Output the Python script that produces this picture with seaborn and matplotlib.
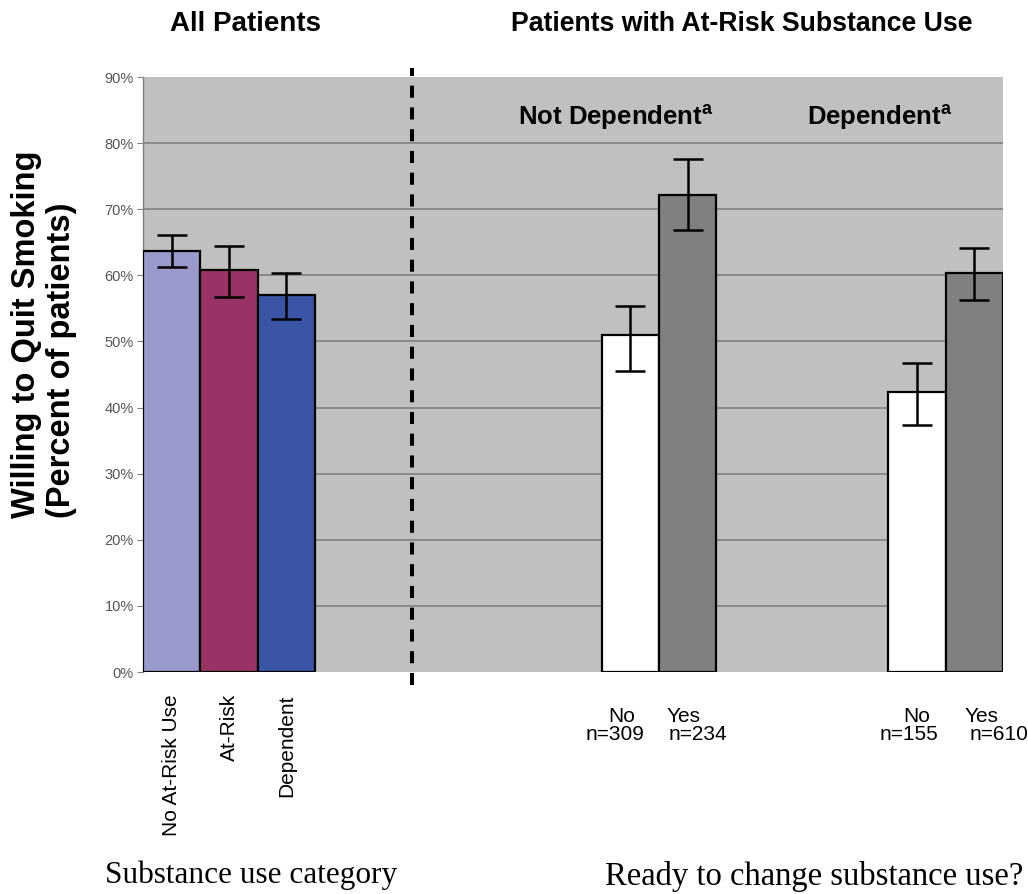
import numpy as np
import pandas as pd
import matplotlib
matplotlib.use("Agg")
import matplotlib.pyplot as plt
import seaborn as sns

# bar data (percent willing to quit smoking)
bar_keys = ["No At-Risk Use", "At-Risk", "Dependent", "ND-No", "ND-Yes", "D-No", "D-Yes"]
bar_pos = [0, 1, 2, 8, 9, 13, 14]
pct_willing = [63.7, 60.8, 57.1, 51.0, 72.2, 42.4, 60.4]
ci_low = [61.2, 56.7, 53.4, 45.5, 66.9, 37.4, 56.3]
ci_high = [66.1, 64.5, 60.4, 55.4, 77.6, 46.8, 64.1]
bar_colors = ["#9999CC", "#993366", "#3A55A5", "#FFFFFF", "#808080", "#FFFFFF", "#808080"]

# axis labels
category_labels = ["No At-Risk Use", "At-Risk", "Dependent"]
ready_labels = ["No", "Yes", "No", "Yes"]
ready_counts = ["n=309", "n=234", "n=155", "n=610"]
y_ticks = [0, 10, 20, 30, 40, 50, 60, 70, 80, 90]

df = pd.DataFrame({"pos": bar_pos, "pct": pct_willing, "key": bar_keys})

sns.set_style("white")
plt.rcParams["font.family"] = ["Liberation Sans", "DejaVu Sans"]
plt.rcParams["text.color"] = "black"
plt.rcParams["mathtext.fontset"] = "custom"
plt.rcParams["mathtext.bf"] = "Liberation Sans:bold"
plt.rcParams["mathtext.rm"] = "Liberation Sans"

W, H = 1028, 894
fig = plt.figure(figsize=(W / 100, H / 100), dpi=100)
ax = fig.add_axes([143 / W, 1 - 672 / H, 860 / W, 595 / H])
ax.set_facecolor("#C0C0C0")

sns.barplot(
    data=df, x="pos", y="pct", hue="key", hue_order=bar_keys,
    palette=dict(zip(bar_keys, bar_colors)), native_scale=True, dodge=False,
    width=1, edgecolor="black", linewidth=1.6, saturation=1, legend=False,
    errorbar=None, ax=ax, zorder=3,
)

pct = np.array(pct_willing)
ax.errorbar(
    bar_pos, pct, yerr=[pct - np.array(ci_low), np.array(ci_high) - pct],
    fmt="none", ecolor="black", elinewidth=1.8, capsize=11, capthick=1.8, zorder=4,
)

ax.set_xlim(-0.5, 14.5)
ax.set_ylim(0, 90)
ax.set_yticks(y_ticks)
ax.set_yticklabels([f"{t}%" for t in y_ticks], fontsize=10.5, color="#555555")
ax.tick_params(axis="y", length=4, width=0.8, color="#808080", pad=2.5, left=True)
for t in y_ticks[1:-1]:
    ax.axhline(t, color="#808080", linewidth=1.2, zorder=1)

ax.set_xticks(bar_pos[:3])
ax.set_xticklabels(category_labels, rotation=90, fontsize=15, va="top", color="black")
ax.tick_params(axis="x", length=0, pad=16)
ax.set_xlabel("")
ax.set_ylabel("")

for side in ["top", "right", "bottom"]:
    ax.spines[side].set_visible(False)
ax.spines["left"].set_color("#808080")
ax.spines["left"].set_linewidth(1.0)

# ready-to-change labels below the right-hand bars
head_shift = [-6, -3, 0, 5]
n_shift = [-11, 7, -6, 18]
for pos, lab, cnt, hs, ns in zip(bar_pos[3:], ready_labels, ready_counts, head_shift, n_shift):
    ax.annotate(lab, xy=(pos, 0), xycoords=("data", "axes fraction"),
                xytext=(hs, -25), textcoords="offset points",
                ha="center", va="top", fontsize=15, annotation_clip=False)
    ax.annotate(cnt, xy=(pos, 0), xycoords=("data", "axes fraction"),
                xytext=(ns, -38.5), textcoords="offset points",
                ha="center", va="top", fontsize=15, annotation_clip=False)

# separator between the two panels
ax.axvline(4.2, ymin=-0.022, ymax=1.015, color="black", linewidth=2.9,
           linestyle=(0, (3, 2.4)), clip_on=False, zorder=5)

# group labels inside the plot
ax.text(6.04, 84.0, r"Not Dependent$^{\mathbf{a}}$", fontsize=18.5,
        fontweight="bold", ha="left", va="center")
ax.text(11.08, 84.0, r"Dependent$^{\mathbf{a}}$", fontsize=18.5,
        fontweight="bold", ha="left", va="center")

# panel titles
fig.text(245 / W, 1 - 24 / H, "All Patients", fontsize=20, fontweight="bold",
         ha="center", va="center")
fig.text(742 / W, 1 - 24 / H, "Patients with At-Risk Substance Use", fontsize=19.2,
         fontweight="bold", ha="center", va="center")

# y axis title
fig.text(27 / W, 1 - 518 / H, "Willing to Quit Smoking", rotation=90, fontsize=23.5,
         fontweight="bold", ha="center", va="bottom")
fig.text(62 / W, 1 - 518 / H, "(Percent of patients)", rotation=90, fontsize=23.5,
         fontweight="bold", ha="center", va="bottom")

# bottom axis titles
fig.text(105 / W, 1 - 883 / H, "Substance use category", fontsize=22.5,
         family=["Liberation Serif", "DejaVu Serif"], ha="left", va="baseline")
fig.text(605 / W, 1 - 885 / H, "Ready to change substance use?", fontsize=23.5,
         family=["Liberation Serif", "DejaVu Serif"], ha="left", va="baseline")

fig.savefig("out.png", dpi=100)
